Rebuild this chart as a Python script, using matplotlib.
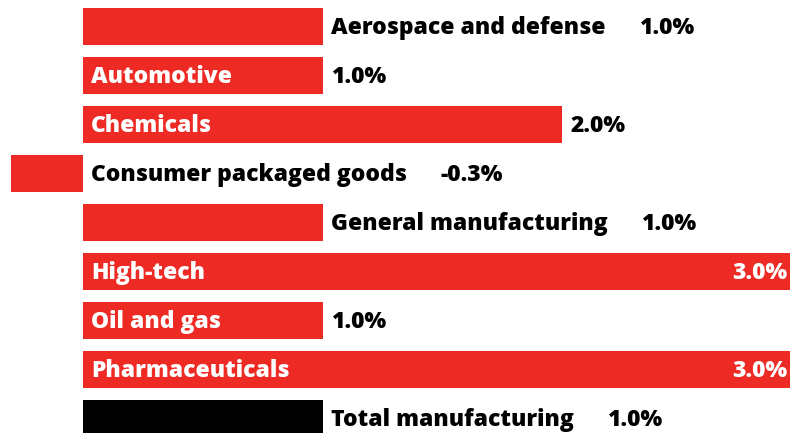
import matplotlib
matplotlib.use("Agg")
import matplotlib.pyplot as plt

categories = [
    "Aerospace and defense",
    "Automotive",
    "Chemicals",
    "Consumer packaged goods",
    "General manufacturing",
    "High-tech",
    "Oil and gas",
    "Pharmaceuticals",
    "Total manufacturing",
]
values = [1.0, 1.0, 2.0, -0.3, 1.0, 3.0, 1.0, 3.0, 1.0]
value_labels = ["1.0%", "1.0%", "2.0%", "-0.3%", "1.0%", "3.0%", "1.0%", "3.0%", "1.0%"]

RED = "#EE2A25"
BLACK = "#000000"
colors = [RED] * 8 + [BLACK]

W, H, DPI = 790, 433, 100
fig = plt.figure(figsize=(W / DPI, H / DPI), dpi=DPI)
ax = fig.add_axes([0, 0, 1, 1])

px_per_unit = 239.7
zero_px = 83
ax.set_xlim(-zero_px / px_per_unit, (W - zero_px) / px_per_unit)
row_px = 49.0
first_px = 26.3
ax.set_ylim((H - first_px) / row_px, -first_px / row_px)
ax.axis("off")

ys = list(range(len(categories)))
ax.barh(ys, values, height=0.75, color=colors, linewidth=0)

fontsize = 16.5
font = dict(family=["Open Sans", "DejaVu Sans"], weight=800, fontsize=fontsize)
fig.canvas.draw()
renderer = fig.canvas.get_renderer()

pad = 8 / px_per_unit
gap = 34 / px_per_unit
xmax = ax.get_xlim()[1]
# baseline offset so capitals sit centred on the bar
cap_px = 0.714 * fontsize * DPI / 72
base_dy = (cap_px / 2) / row_px


def text_width(s):
    t = ax.text(0, 0, s, **font)
    w = t.get_window_extent(renderer).width / px_per_unit
    t.remove()
    return w


for y, name, v, lab in zip(ys, categories, values, value_labels):
    end = max(v, 0)
    nw = text_width(name)
    vw = text_width(lab)
    yb = y + base_dy
    if v > 0 and name != categories[-1] and nw + 2 * pad < v:
        # name fits inside the bar
        ax.text(pad, yb, name, color="white", va="baseline", ha="left", **font)
        if end + pad + vw > xmax:
            ax.text(xmax - 3 / px_per_unit, yb, lab, color="white",
                    va="baseline", ha="right", **font)
        else:
            ax.text(end + pad, yb, lab, color="black", va="baseline", ha="left", **font)
    else:
        ax.text(end + pad, yb, name, color="black", va="baseline", ha="left", **font)
        ax.text(end + pad + nw + gap, yb, lab, color="black",
                va="baseline", ha="left", **font)

fig.savefig("out.png", dpi=DPI, facecolor="white")
